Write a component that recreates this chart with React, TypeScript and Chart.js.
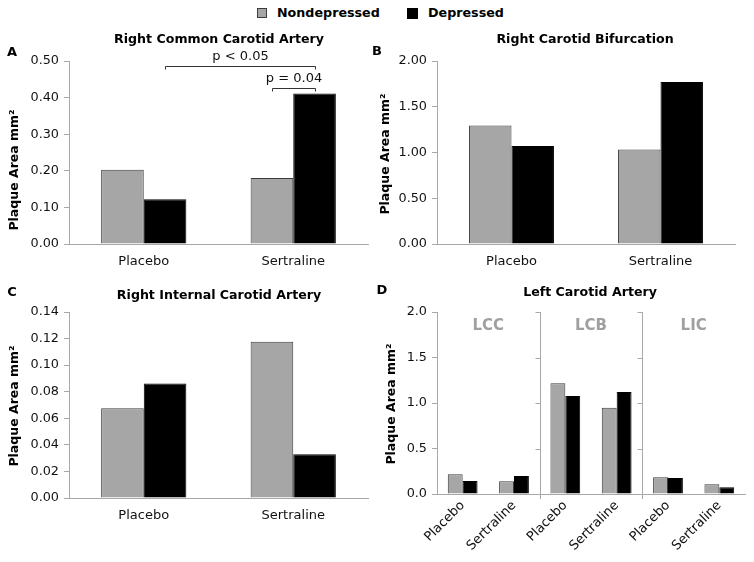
import React, { useEffect, useRef } from "react";
import { Chart, registerables } from "chart.js";

Chart.register(...registerables);

// ---------- data ----------
const groups = ["Placebo", "Sertraline"];
const seriesNames = ["Nondepressed", "Depressed"];

const rccNondepressed = [0.203, 0.18];
const rccDepressed = [0.122, 0.411];

const rcbNondepressed = [1.294, 1.032];
const rcbDepressed = [1.071, 1.77];

const ricNondepressed = [0.0675, 0.1177];
const ricDepressed = [0.0862, 0.033];

const leftSegments = ["LCC", "LCB", "LIC"];
const lccNondepressed = [0.216, 0.14];
const lccDepressed = [0.143, 0.198];
const lcbNondepressed = [1.216, 0.949];
const lcbDepressed = [1.077, 1.121];
const licNondepressed = [0.183, 0.107];
const licDepressed = [0.176, 0.074];

const ticksA = [0, 0.1, 0.2, 0.3, 0.4, 0.5];
const ticksB = [0, 0.5, 1, 1.5, 2];
const ticksC = [0, 0.02, 0.04, 0.06, 0.08, 0.1, 0.12, 0.14];
const ticksD = [0, 0.5, 1, 1.5, 2];

// significance brackets in panel A: [group index, dataset index]
const sigLabels = ["p < 0.05", "p = 0.04"];
const sigFrom = [[0, 1], [1, 0]];
const sigTo = [[1, 1], [1, 1]];
const sigLevel = [0.486, 0.427];
const sigDrop = [0.477, 0.417];
const sigTextLevel = [0.512, 0.452];

const yTitle = "Plaque Area mm²";

// ---------- styles ----------
const FAMILY = "'DejaVu Sans', sans-serif";
const GREY = "#a6a6a6";
const GREY_EDGE = "#3c3c3c";
const BLACK = "#000000";
const AXIS = "#a8a8a8";
const TEXT = "#111111";

Chart.defaults.font.family = FAMILY;

type Decor = {
  letter: { text: string; x: number; y: number };
  title: { text: string; x: number; y: number };
  yTitle: { text: string; x: number; y: number };
  sig?: boolean;
  segments?: { labels: string[]; per: number; labelValue: number };
};

function makeDecor(d: Decor) {
  return {
    id: "decor",
    afterDraw(chart: any) {
      const ctx = chart.ctx as CanvasRenderingContext2D;
      const area = chart.chartArea;
      const xs = chart.scales.x;
      const ys = chart.scales.y;
      ctx.save();
      ctx.fillStyle = "#000";
      ctx.textAlign = "center";
      ctx.textBaseline = "middle";
      ctx.font = `bold 13px ${FAMILY}`;
      ctx.fillText(d.letter.text, d.letter.x, d.letter.y);
      ctx.font = `bold 12.6px ${FAMILY}`;
      ctx.fillText(d.title.text, d.title.x, d.title.y);
      ctx.save();
      ctx.translate(d.yTitle.x, d.yTitle.y);
      ctx.rotate(-Math.PI / 2);
      ctx.font = `bold 12.5px ${FAMILY}`;
      ctx.fillText(d.yTitle.text, 0, 0);
      ctx.restore();

      if (d.sig) {
        ctx.strokeStyle = "#333";
        ctx.lineWidth = 1;
        ctx.font = `13px ${FAMILY}`;
        ctx.fillStyle = TEXT;
        for (let i = 0; i < sigLabels.length; i++) {
          const a = chart.getDatasetMeta(sigFrom[i][1]).data[sigFrom[i][0]];
          const b = chart.getDatasetMeta(sigTo[i][1]).data[sigTo[i][0]];
          const x1 = Math.round(a.x) + 0.5;
          const x2 = Math.round(b.x) + 0.5;
          const y = Math.round(ys.getPixelForValue(sigLevel[i])) + 0.5;
          const yd = Math.round(ys.getPixelForValue(sigDrop[i])) + 0.5;
          ctx.beginPath();
          ctx.moveTo(x1, yd);
          ctx.lineTo(x1, y);
          ctx.lineTo(x2, y);
          ctx.lineTo(x2, yd);
          ctx.stroke();
          ctx.fillText(sigLabels[i], (x1 + x2) / 2, ys.getPixelForValue(sigTextLevel[i]));
        }
      }

      if (d.segments) {
        const s = d.segments;
        ctx.strokeStyle = AXIS;
        ctx.lineWidth = 1;
        for (let k = 1; k < s.labels.length; k++) {
          const x = Math.round(xs.getPixelForValue(k * s.per - 0.5)) + 0.5;
          ctx.beginPath();
          ctx.moveTo(x, area.top);
          ctx.lineTo(x, area.bottom + 5);
          ctx.stroke();
          for (const t of ys.ticks) {
            if (t.value === 0) continue;
            const y = Math.round(ys.getPixelForValue(t.value)) + 0.5;
            ctx.beginPath();
            ctx.moveTo(x - 5, y);
            ctx.lineTo(x, y);
            ctx.stroke();
          }
        }
        ctx.fillStyle = "#a0a0a0";
        ctx.font = `bold 15px ${FAMILY}`;
        for (let k = 0; k < s.labels.length; k++) {
          const x = xs.getPixelForValue(k * s.per + (s.per - 1) / 2);
          ctx.fillText(s.labels[k], x, ys.getPixelForValue(s.labelValue));
        }
      }
      ctx.restore();
    },
  };
}

type PanelProps = {
  left: number;
  top: number;
  width: number;
  height: number;
  labels: string[];
  nondep: number[];
  dep: number[];
  ticks: number[];
  decimals: number;
  yWidth: number;
  xHeight: number;
  padTop: number;
  padRight: number;
  catPct: number;
  rotate?: boolean;
  xPad: number;
  decor: Decor;
};

function Panel(p: PanelProps) {
  const ref = useRef<HTMLCanvasElement>(null);
  useEffect(() => {
    if (!ref.current) return;
    const chart = new Chart(ref.current, {
      type: "bar",
      data: {
        labels: p.labels,
        datasets: [
          {
            label: seriesNames[0],
            data: p.nondep,
            backgroundColor: GREY,
            borderColor: GREY_EDGE,
            borderWidth: 1,
            barPercentage: 1,
            categoryPercentage: p.catPct,
          },
          {
            label: seriesNames[1],
            data: p.dep,
            backgroundColor: BLACK,
            borderColor: BLACK,
            borderWidth: 1,
            barPercentage: 1,
            categoryPercentage: p.catPct,
          },
        ],
      },
      options: {
        responsive: false,
        animation: false,
        events: [],
        layout: { padding: { top: p.padTop, right: p.padRight, left: 0, bottom: 0 } },
        plugins: { legend: { display: false }, tooltip: { enabled: false }, title: { display: false } },
        scales: {
          x: {
            type: "category",
            offset: true,
            grid: { display: false, drawTicks: false },
            border: { display: true, color: AXIS, width: 1 },
            ticks: {
              color: TEXT,
              font: { size: 13, family: FAMILY },
              padding: p.xPad,
              autoSkip: false,
              minRotation: p.rotate ? 45 : 0,
              maxRotation: p.rotate ? 45 : 0,
            },
            afterFit: (s: any) => {
              s.height = p.xHeight;
            },
          },
          y: {
            type: "linear",
            min: p.ticks[0],
            max: p.ticks[p.ticks.length - 1],
            afterBuildTicks: (s: any) => {
              s.ticks = p.ticks.map((v) => ({ value: v }));
            },
            grid: { drawOnChartArea: false, drawTicks: true, tickLength: 5, color: AXIS, tickColor: AXIS },
            border: { display: true, color: AXIS, width: 1 },
            ticks: {
              color: TEXT,
              font: { size: 12.8, family: FAMILY },
              padding: 5,
              callback: (v: any) => Number(v).toFixed(p.decimals),
            },
            afterFit: (s: any) => {
              s.width = p.yWidth;
            },
          },
        },
      },
      plugins: [makeDecor(p.decor)],
    });
    return () => chart.destroy();
  }, []);
  return (
    <canvas
      ref={ref}
      width={p.width}
      height={p.height}
      style={{ position: "absolute", left: p.left, top: p.top, width: p.width, height: p.height }}
    />
  );
}

const dLabels = leftSegments.flatMap(() => groups);
const dNondep = [...lccNondepressed, ...lcbNondepressed, ...licNondepressed];
const dDep = [...lccDepressed, ...lcbDepressed, ...licDepressed];

export default function App() {
  const legendText: React.CSSProperties = {
    position: "absolute",
    top: 5,
    font: `bold 12.7px ${FAMILY}`,
    lineHeight: "16px",
    color: "#000",
    whiteSpace: "nowrap",
  };
  return (
    <div style={{ position: "absolute", left: 0, top: 0, width: 754, height: 562, background: "#fff", overflow: "hidden" }}>
      <div style={{ position: "absolute", left: 257, top: 8, width: 10, height: 10, background: GREY, border: `1px solid ${GREY_EDGE}`, boxSizing: "border-box" }} />
      <div style={{ ...legendText, left: 277 }}>{seriesNames[0]}</div>
      <div style={{ position: "absolute", left: 407, top: 8, width: 11, height: 11, background: BLACK }} />
      <div style={{ ...legendText, left: 428 }}>{seriesNames[1]}</div>

      <Panel
        left={0} top={30} width={377} height={250}
        labels={groups} nondep={rccNondepressed} dep={rccDepressed}
        ticks={ticksA} decimals={2}
        yWidth={69} xHeight={36} padTop={31} padRight={9} catPct={0.57} xPad={10}
        decor={{
          letter: { text: "A", x: 12, y: 23 },
          title: { text: "Right Common Carotid Artery", x: 219, y: 10 },
          yTitle: { text: yTitle, x: 15, y: 140 },
          sig: true,
        }}
      />
      <Panel
        left={366} top={30} width={388} height={250}
        labels={groups} nondep={rcbNondepressed} dep={rcbDepressed}
        ticks={ticksB} decimals={2}
        yWidth={71} xHeight={36} padTop={31} padRight={19} catPct={0.57} xPad={10}
        decor={{
          letter: { text: "B", x: 11, y: 22 },
          title: { text: "Right Carotid Bifurcation", x: 219, y: 10 },
          yTitle: { text: yTitle, x: 20, y: 124 },
        }}
      />
      <Panel
        left={0} top={280} width={377} height={282}
        labels={groups} nondep={ricNondepressed} dep={ricDepressed}
        ticks={ticksC} decimals={2}
        yWidth={69} xHeight={64} padTop={32} padRight={9} catPct={0.57} xPad={10}
        decor={{
          letter: { text: "C", x: 12, y: 13 },
          title: { text: "Right Internal Carotid Artery", x: 219, y: 16 },
          yTitle: { text: yTitle, x: 15, y: 126 },
        }}
      />
      <Panel
        left={366} top={280} width={388} height={282}
        labels={dLabels} nondep={dNondep} dep={dDep}
        ticks={ticksD} decimals={1}
        yWidth={71} xHeight={68} padTop={32} padRight={9} catPct={0.58} xPad={4} rotate
        decor={{
          letter: { text: "D", x: 16, y: 11 },
          title: { text: "Left Carotid Artery", x: 224, y: 13 },
          yTitle: { text: yTitle, x: 26, y: 124 },
          segments: { labels: leftSegments, per: 2, labelValue: 1.85 },
        }}
      />
    </div>
  );
}
